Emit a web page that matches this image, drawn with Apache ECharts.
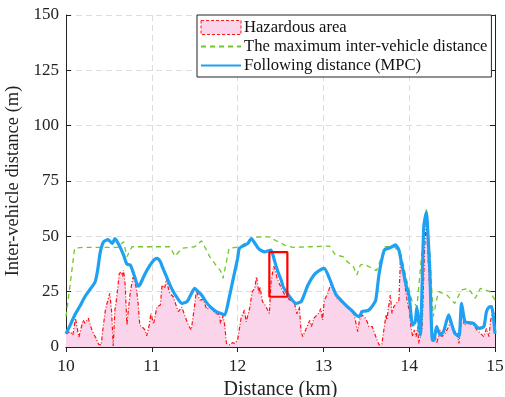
<!DOCTYPE html>
<html>
<head>
<meta charset="UTF-8">
<title>Inter-vehicle distance</title>
<style>
  html, body { margin: 0; padding: 0; background: #fff; }
  #chart { width: 505px; height: 397px; }
</style>
</head>
<body>
<div id="chart"></div>
<script src="https://cdn.jsdelivr.net/npm/echarts@6/dist/echarts.min.js"></script>
<script>
// hazardous area (red dash-dot edge, pink fill)
const hazardX = [10.00,10.05,10.08,10.11,10.15,10.20,10.22,10.26,10.29,10.32,10.35,10.38,10.41,10.43,10.46,10.49,10.51,10.53,10.55,10.57,10.59,10.62,10.64,10.66,10.67,10.69,10.71,10.73,10.75,10.78,10.80,10.82,10.84,10.86,10.89,10.92,10.94,10.97,10.99,11.02,11.06,11.10,11.12,11.15,11.17,11.19,11.21,11.25,11.29,11.31,11.35,11.39,11.43,11.46,11.50,11.52,11.54,11.56,11.60,11.64,11.68,11.72,11.75,11.79,11.80,11.83,11.85,11.87,11.91,11.94,11.97,12.00,12.02,12.04,12.08,12.10,12.14,12.17,12.20,12.22,12.25,12.26,12.29,12.32,12.35,12.37,12.39,12.42,12.44,12.46,12.51,12.55,12.57,12.61,12.66,12.69,12.72,12.74,12.76,12.80,12.84,12.86,12.89,12.95,12.97,12.99,13.01,13.05,13.09,13.12,13.16,13.22,13.28,13.33,13.36,13.40,13.42,13.45,13.49,13.51,13.53,13.57,13.61,13.65,13.68,13.71,13.73,13.74,13.76,13.78,13.80,13.82,13.85,13.88,13.90,13.92,13.95,13.98,14.00,14.02,14.04,14.06,14.08,14.10,14.11,14.13,14.15,14.18,14.20,14.22,14.24,14.27,14.30,14.32,14.36,14.38,14.42,14.46,14.48,14.52,14.56,14.58,14.62,14.64,14.67,14.71,14.75,14.79,14.83,14.87,14.90,14.93,14.95,14.98,15.00];
const hazardY = [6,6.9,5.4,13,4.5,12.2,10.7,13,9,6,4,1.2,0.9,8,17,21.5,24.2,17,0.5,16.7,22,33,34,32,34.8,28,9.9,18,25,31.5,30.3,26.5,20,9.9,9,7.7,5,9.9,15.2,10.3,18.2,19,28,26.5,31,27,24.2,22.7,18,16,18,13.5,9.6,7.7,19,25.5,23,21.2,21.5,17,18.2,16,15.2,14.5,10.7,14,9.9,1.6,0.9,2,1.6,3.2,8,13,16.7,11.4,17.4,25,26.5,31.8,24.2,27.3,20.5,19,16.7,15.2,29.5,36.5,34.8,31,26.5,23.5,22.7,21.2,20.5,15,18.2,6.9,4.7,8.4,12,9.2,13,15.5,17.4,12.2,21,24.2,28.8,25,22,20,18,16.3,14.5,6.9,12.2,14.5,13,11.4,9.2,9.2,4.7,0.9,1,9.2,14.5,12.2,18.2,23.5,15.2,18.2,19.7,21.2,42,36.3,28,20,16.7,9.2,4.7,7.7,4.7,9.2,1.6,2,8,45,57,40,25,3.2,6.2,1.6,7.7,4.7,6.2,9.2,12.2,7.7,6.2,1.6,16.7,9.9,10.7,10.5,9.9,7.7,6.2,4.7,8.4,4.7,12.2,16.7,13.7];

// maximum inter-vehicle distance (green dashed)
const maxDistX = [10.00,10.03,10.07,10.10,10.20,10.40,10.61,10.67,10.71,10.77,11.00,11.21,11.27,11.35,11.50,11.58,11.68,11.76,11.80,11.83,11.87,11.90,12.03,12.18,12.36,12.45,12.55,12.65,12.85,13.07,13.14,13.23,13.28,13.35,13.39,13.43,13.47,13.62,13.72,13.83,13.91,13.97,14.03,14.09,14.15,14.20,14.24,14.28,14.34,14.44,14.53,14.61,14.69,14.77,14.83,14.94,15.00];
const maxDistY = [13.7,22.7,35,44.6,45,45,45,47.6,40.8,45.3,45.3,45.3,41,44.6,45.3,48,40.5,36.3,34.5,31,38.5,44.6,45.3,49.6,49.8,48,46,45,45.3,45.6,41.6,40.8,38.5,36.3,32.5,37,37.5,34.5,45.3,45.3,40.8,30.3,21.2,18.2,43.8,62.2,42.3,13.7,25,23.5,19.7,25.8,26.5,22,26.5,25,21.2];

// following distance with MPC (blue)
const mpcX = [10.00,10.05,10.11,10.17,10.22,10.28,10.34,10.37,10.40,10.44,10.49,10.54,10.57,10.62,10.67,10.71,10.75,10.80,10.84,10.86,10.92,10.98,11.03,11.06,11.10,11.13,11.18,11.23,11.29,11.35,11.41,11.46,11.50,11.54,11.58,11.63,11.68,11.75,11.80,11.85,11.90,11.95,12.00,12.02,12.07,12.12,12.16,12.20,12.24,12.28,12.32,12.36,12.39,12.43,12.47,12.51,12.53,12.58,12.63,12.68,12.74,12.78,12.82,12.89,12.95,13.01,13.07,13.11,13.15,13.22,13.28,13.33,13.38,13.42,13.45,13.50,13.53,13.57,13.61,13.65,13.71,13.76,13.80,13.84,13.88,13.91,13.94,13.97,14.00,14.04,14.07,14.09,14.11,14.13,14.17,14.20,14.22,14.24,14.27,14.29,14.32,14.36,14.40,14.46,14.49,14.53,14.58,14.61,14.65,14.70,14.75,14.81,14.87,14.90,14.93,14.96,14.98,15.00];
const mpcY = [6,10,15,19,22.7,26,29.5,35,43,47.6,48.5,46.8,49,46,41.6,37.4,37,31.8,27.5,28,33,37,39.5,40,38.5,35.5,31,26.5,22.5,19.7,20.5,24,26.5,25,23.5,20.5,18.2,16,15.2,14.5,22,31,40,44.6,45.8,46.8,49,47,44.6,43.5,43,43.5,43.8,39,34,30,27.3,24.2,21.5,19.7,20.5,24,28,32.5,34.5,35.5,31,27,23.5,20.5,18.2,16.5,14.5,13.7,16,16.3,16.7,18.5,21.2,33.3,43.8,44.6,45.3,46.1,43.8,38,32.5,27,22.7,9.9,11.4,18,12,5.4,54.4,61,50,34.8,3,3.2,9.2,5.4,6.9,14.5,11,6.2,4.7,19.7,11.4,11,10.7,8.4,9.2,16,18,18.2,14,6];

// highlighted box corners (closed outline)
const boxX = [12.37, 12.58, 12.58, 12.37, 12.37];
const boxY = [42.9, 42.9, 22.7, 22.7, 42.9];

const xTicks = [10, 11, 12, 13, 14, 15];
const yTicks = [0, 25, 50, 75, 100, 125, 150];

const zip = (xs, ys) => xs.map((x, i) => [x, ys[i]]);

const font = 'Liberation Serif';
const chart = echarts.init(document.getElementById('chart'));

const baseX = {
  type: 'value', min: xTicks[0], max: xTicks[xTicks.length - 1], interval: 1
};
const baseY = {
  type: 'value', min: yTicks[0], max: yTicks[yTicks.length - 1], interval: 25
};

chart.setOption({
  animation: false,
  grid: { left: 66, right: 10, top: 15, bottom: 50, outerBoundsMode: 'none', containLabel: false },
  legend: {
    orient: 'vertical',
    left: 197,
    top: 15,
    padding: [4, 4, 3, 3],
    itemGap: 2,
    itemWidth: 40,
    itemHeight: 14,
    backgroundColor: '#fff',
    borderColor: '#222',
    borderWidth: 1,
    borderRadius: 0,
    textStyle: { fontFamily: font, fontSize: 16.6, color: '#111', lineHeight: 16.5, padding: [0, 0, 0, -2] },
    data: [
      { name: 'Hazardous area', icon: 'rect',
        itemStyle: { color: '#f9d4ea', borderColor: '#ff1a1a', borderWidth: 1, borderType: [3, 2] } },
      { name: 'The maximum inter-vehicle distance', itemStyle: { opacity: 0 } },
      { name: 'Following distance (MPC)', itemStyle: { opacity: 0 } }
    ]
  },
  xAxis: [
    Object.assign({}, baseX, {
      position: 'bottom',
      name: 'Distance (km)',
      nameLocation: 'middle',
      nameGap: 31,
      nameTextStyle: { fontFamily: font, fontSize: 20, color: '#222' },
      axisLine: { lineStyle: { color: '#222', width: 1 } },
      axisTick: { inside: true, length: 5, lineStyle: { color: '#222' } },
      axisLabel: { fontFamily: font, fontSize: 17.5, color: '#222', margin: 10 },
      splitLine: { show: true, lineStyle: { color: '#dcdcdc', type: [6, 4] } }
    }),
    Object.assign({}, baseX, {
      position: 'top',
      axisLine: { lineStyle: { color: '#222', width: 1 } },
      axisTick: { inside: true, length: 5, lineStyle: { color: '#222' } },
      axisLabel: { show: false },
      splitLine: { show: false }
    })
  ],
  yAxis: [
    Object.assign({}, baseY, {
      position: 'left',
      name: 'Inter-vehicle distance (m)',
      nameLocation: 'middle',
      nameGap: 36,
      nameTextStyle: { fontFamily: font, fontSize: 18.5, color: '#222' },
      axisLine: { show: true, lineStyle: { color: '#222', width: 1 } },
      axisTick: { show: true, inside: true, length: 5, lineStyle: { color: '#222' } },
      axisLabel: { fontFamily: font, fontSize: 17, color: '#222', margin: 7 },
      splitLine: { show: true, lineStyle: { color: '#dcdcdc', type: [6, 4] } }
    }),
    Object.assign({}, baseY, {
      position: 'right',
      axisLine: { show: true, lineStyle: { color: '#222', width: 1 } },
      axisTick: { show: true, inside: true, length: 5, lineStyle: { color: '#222' } },
      axisLabel: { show: false },
      splitLine: { show: false }
    })
  ],
  series: [
    {
      name: 'Hazardous area',
      type: 'line',
      symbol: 'none',
      data: zip(hazardX, hazardY),
      lineStyle: { color: '#ff1010', width: 1.2, type: [4, 2, 1, 2] },
      itemStyle: { color: '#f9d4ea' },
      areaStyle: { color: '#f9d4ea', opacity: 1 },
      z: 2
    },
    {
      name: 'The maximum inter-vehicle distance',
      type: 'line',
      symbol: 'none',
      data: zip(maxDistX, maxDistY),
      lineStyle: { color: '#72c82a', width: 1.3, type: [5, 4] },
      itemStyle: { color: '#72c82a' },
      z: 3
    },
    {
      name: 'Following distance (MPC)',
      type: 'line',
      symbol: 'none',
      smooth: 0.2,
      data: zip(mpcX, mpcY),
      lineStyle: { color: '#1ea1f2', width: 3.2 },
      itemStyle: { color: '#1ea1f2' },
      z: 4
    },
    {
      name: 'box',
      type: 'line',
      symbol: 'none',
      silent: true,
      data: zip(boxX, boxY),
      lineStyle: { color: '#ff0000', width: 2.2 },
      itemStyle: { color: '#ff0000' },
      z: 5
    }
  ]
});
</script>
</body>
</html>
